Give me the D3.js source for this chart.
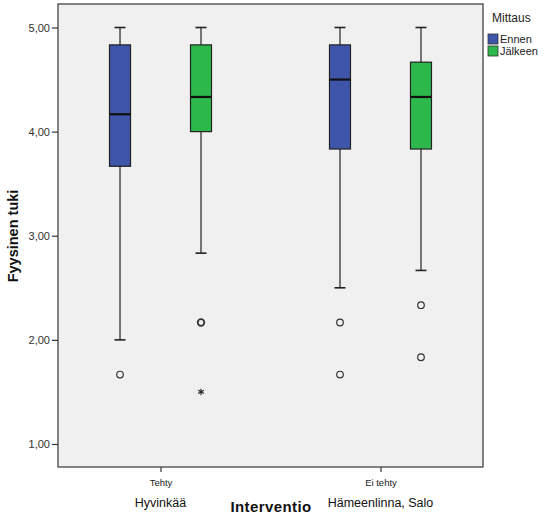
<!DOCTYPE html>
<html><head><meta charset="utf-8">
<script src="https://cdn.jsdelivr.net/npm/d3@7"></script>
<style>body{margin:0;background:#fff;} svg{display:block;font-family:Arial,"Liberation Sans",sans-serif;}</style>
</head><body><svg id="c" width="546" height="519"></svg>
<script>
const categories = ["Tehty", "Ei tehty"];
const siteLabels = ["Hyvinkää", "Hämeenlinna, Salo"];
const series = ["Ennen", "Jälkeen"];
const seriesColors = ["#3f55a9", "#2db84b"];
// [category][series] : [lowWhisker, q1, median, q3, highWhisker]
const boxStats = [
  [[2.0, 3.667, 4.167, 4.833, 5.0], [2.833, 4.0, 4.333, 4.833, 5.0]],
  [[2.5, 3.833, 4.5, 4.833, 5.0], [2.667, 3.833, 4.333, 4.667, 5.0]]
];
const outliers = [
  [[1.667], [2.167]],
  [[2.167, 1.667], [2.333, 1.833]]
];
const extremes = [
  [[], [1.5]],
  [[], []]
];
const yTicks = [1, 2, 3, 4, 5];

const svg = d3.select("#c");
const L = 58, R = 483, T = 4, B = 467;
const y = d3.scaleLinear().domain([1, 5]).range([444, 27.5]);
const x = d3.scalePoint().domain(categories).range([L, R]).padding(0.466);
const off = d => (d === 0 ? -40.5 : 40.5);
const bw = 21;

svg.append("rect").attr("x", L).attr("y", T).attr("width", R - L).attr("height", B - T)
  .attr("fill", "#f0f0f0").attr("stroke", "#444").attr("stroke-width", 1.3);

// y axis
const yAxis = d3.axisLeft(y).tickValues(yTicks).tickSize(6).tickPadding(2)
  .tickFormat(d => d3.format(".2f")(d).replace(".", ","));
const ya = svg.append("g").attr("transform", `translate(${L},0)`).call(yAxis);
ya.select(".domain").remove();
ya.selectAll("line").attr("stroke", "#333").attr("stroke-width", 1.2);
ya.selectAll("text").attr("font-size", 11).attr("fill", "#333");

// x axis
const xAxis = d3.axisBottom(x).tickSize(5).tickPadding(7);
const xa = svg.append("g").attr("transform", `translate(0,${B})`).call(xAxis);
xa.select(".domain").remove();
xa.selectAll("line").attr("stroke", "#333").attr("stroke-width", 1.2);
xa.selectAll("text").attr("font-size", 9.5).attr("fill", "#222");

svg.append("g").selectAll("text").data(categories).join("text")
  .attr("x", (d) => x(d)).attr("y", 507).attr("text-anchor", "middle")
  .attr("font-size", 12.5).attr("fill", "#111").text((d, i) => siteLabels[i]);

svg.append("text").attr("x", 271).attr("y", 512).attr("text-anchor", "middle")
  .attr("font-size", 15).attr("letter-spacing", 0.4).attr("font-weight", "bold").attr("fill", "#111").text("Interventio");

svg.append("text").attr("transform", "translate(18,236) rotate(-90)").attr("text-anchor", "middle")
  .attr("font-size", 14.5).attr("font-weight", "bold").attr("fill", "#111").text("Fyysinen tuki");

// boxes
categories.forEach((c, ci) => {
  series.forEach((s, si) => {
    const st = boxStats[ci][si];
    const cx = x(c) + off(si);
    const g = svg.append("g");
    g.append("line").attr("x1", cx).attr("x2", cx).attr("y1", y(st[0])).attr("y2", y(st[4]))
      .attr("stroke", "#222").attr("stroke-width", 1.2);
    [st[0], st[4]].forEach(v => g.append("line").attr("x1", cx - 5.5).attr("x2", cx + 5.5)
      .attr("y1", y(v)).attr("y2", y(v)).attr("stroke", "#222").attr("stroke-width", 1.6));
    g.append("rect").attr("x", cx - bw / 2).attr("y", y(st[3])).attr("width", bw)
      .attr("height", y(st[1]) - y(st[3])).attr("fill", seriesColors[si])
      .attr("stroke", "#222").attr("stroke-width", 1.2);
    g.append("line").attr("x1", cx - bw / 2).attr("x2", cx + bw / 2).attr("y1", y(st[2])).attr("y2", y(st[2]))
      .attr("stroke", "#111").attr("stroke-width", 2.2);
    outliers[ci][si].forEach(v => g.append("circle").attr("cx", cx).attr("cy", y(v)).attr("r", 3.3)
      .attr("fill", "none").attr("stroke", "#333").attr("stroke-width", (ci === 0 && si === 1) ? 1.8 : 1.2));
    extremes[ci][si].forEach(v => g.append("path")
      .attr("d", d3.symbol(d3.symbolAsterisk ? d3.symbolAsterisk : d3.symbolStar, 30)())
      .attr("transform", `translate(${cx},${y(v)})`).attr("fill", "none").attr("stroke", "#222").attr("stroke-width", 1.1));
  });
});

// legend
svg.append("text").attr("x", 492).attr("y", 22).attr("font-size", 12).attr("fill", "#222").text("Mittaus");
series.forEach((s, i) => {
  svg.append("rect").attr("x", 488).attr("y", 34 + i * 12).attr("width", 10).attr("height", 10)
    .attr("fill", seriesColors[i]).attr("stroke", "#333").attr("stroke-width", 0.8);
  svg.append("text").attr("x", 500).attr("y", 43 + i * 12).attr("font-size", 11).attr("fill", "#222").text(s);
});
</script></body></html>
